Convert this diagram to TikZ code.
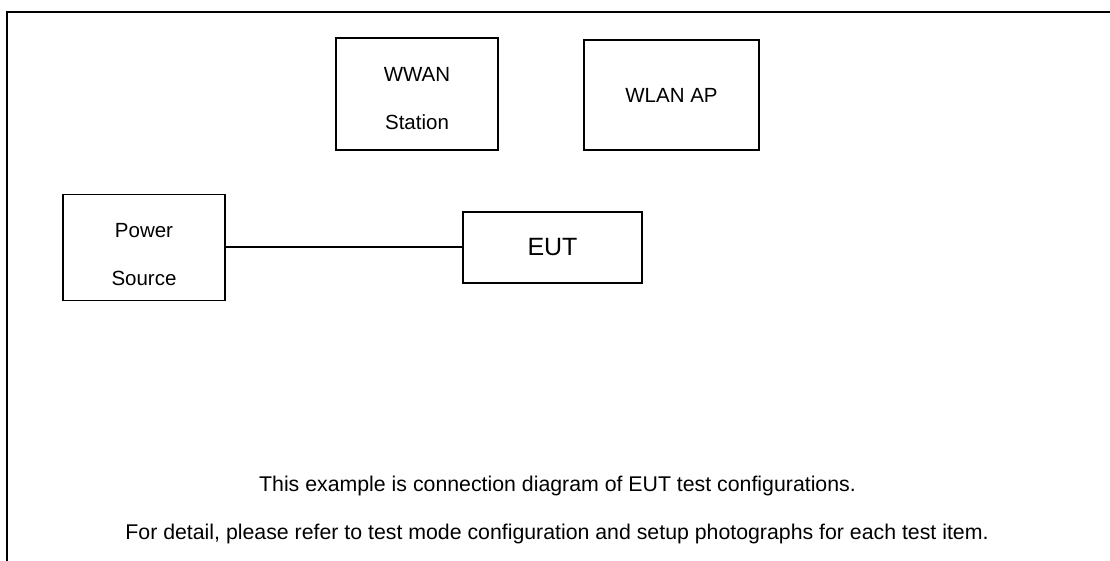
\documentclass[tikz,border=0pt]{standalone}
\usepackage{fontspec}
\setmainfont{Liberation Sans}

\begin{document}
\begin{tikzpicture}[x=1pt, y=-1pt,
	box/.style={draw, line width=1.2pt, align=center, inner sep=0pt, font=\fontsize{20.5}{48}\selectfont},
	note/.style={anchor=base, inner sep=0pt, font=\fontsize{21.3}{24}\selectfont}]
	\useasboundingbox (0,0) rectangle (1110,561);
	
	% Draw frame
	\draw[line width=2.5pt] (7,561) -- (7,12) -- (1110,12);
	
	% Draw equipment boxes
	\node[box, minimum width=162pt, minimum height=112pt, text height=72pt] (wwan) at (417,94) {WWAN\\Station};
	\node[box, minimum width=175pt, minimum height=110pt] (wlan) at (671.5,95) {WLAN AP};
	\node[box, minimum width=162pt, minimum height=106pt, text height=77pt] (power) at (144,247.5) {Power\\Source};
	\node[box, minimum width=179pt, minimum height=71pt, font=\fontsize{25}{30}\selectfont] (eut) at (552.5,247.5) {EUT};
	
	% Connect power source to EUT
	\draw[line width=2pt] (power) -- (eut);
	
	% Notes below the setup
	\node[note] (note1) at (557.5,491) {This example is connection diagram of EUT test configurations.};
	\node[note] (note2) at (557,539) {For detail, please refer to test mode configuration and setup photographs for each test item.};
\end{tikzpicture}
\end{document}
